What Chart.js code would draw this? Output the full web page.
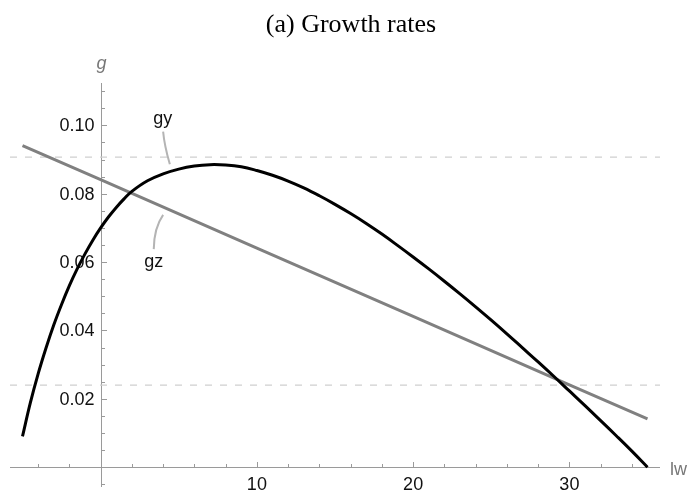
<!DOCTYPE html>
<html>
<head>
<meta charset="utf-8">
<script src="https://cdn.jsdelivr.net/npm/chart.js@4.4.1/dist/chart.umd.min.js"></script>
<style>
  body { margin: 0; background: #fff; }
  #wrap { width: 694px; height: 494px; }
</style>
</head>
<body>
<div id="wrap"><canvas id="myChart"></canvas></div>
<script>
// values
const lw = [-5, -4.5, -4, -3.5, -3, -2.5, -2, -1.5, -1, -0.5, 0, 0.5, 1, 1.5, 2,
  3, 4, 5, 6, 7, 8, 9, 10, 11, 12, 13, 14, 15, 16, 17, 18, 19, 20,
  21, 22, 23, 24, 25, 26, 27, 28, 29, 30, 31, 32, 33, 34, 35];
const gy = [0.0090, 0.0188, 0.0273, 0.0348, 0.0416, 0.0476, 0.0531, 0.0580, 0.0624, 0.0664, 0.0700, 0.0732, 0.0760, 0.0785, 0.0807,
  0.0838, 0.0858, 0.0872, 0.0881, 0.0885, 0.0884, 0.0879, 0.0868, 0.0854, 0.0837, 0.0817, 0.0794, 0.0769, 0.0742, 0.0713, 0.0682, 0.0649, 0.0615,
  0.0580, 0.0544, 0.0507, 0.0469, 0.0430, 0.0390, 0.0349, 0.0308, 0.0266, 0.0223, 0.0180, 0.0136, 0.0092, 0.0047, 0.0];
const gzLw = [-5, 0, 10, 20, 30, 35];
const gz = [0.0941, 0.0841, 0.0641, 0.0441, 0.0241, 0.0141];
const refLevels = [0.0907, 0.024];

const xMajorTicks = [10, 20, 30];
const xTickLabels = ['10', '20', '30'];
const xMinorTicks = [-4, -2, 2, 4, 6, 8, 12, 14, 16, 18, 22, 24, 26, 28, 32, 34];
const yMajorTicks = [0.02, 0.04, 0.06, 0.08, 0.10];
const yTickLabels = ['0.02', '0.04', '0.06', '0.08', '0.10'];
const yMinorTicks = [-0.005, 0.005, 0.01, 0.015, 0.025, 0.03, 0.035, 0.045, 0.05, 0.055,
  0.065, 0.07, 0.075, 0.085, 0.09, 0.095, 0.105, 0.11];

const X_MIN = -5.8, X_MAX = 35.8;
const Y_MIN = -0.0058, Y_MAX = 0.1124;
const TITLE = '(a) Growth rates';

// curve labels with their little leader lines (data coords)
const curveLabels = [
  { text: 'gy', at: [3.98, 0.1020], path: [[4.0, 0.0982], [4.08, 0.0942], [4.43, 0.0886]] },
  { text: 'gz', at: [3.40, 0.0600], path: [[4.0, 0.0738], [3.42, 0.0700], [3.40, 0.0638]] }
];

const toPts = (xs, ys) => xs.map((v, i) => ({ x: v, y: ys[i] }));

const mathAxes = {
  id: 'mathAxes',
  beforeDatasetsDraw(chart) {
    const { ctx, scales: { x, y } } = chart;
    const x0 = Math.round(x.getPixelForValue(0)) + 0.5;
    const y0 = Math.round(y.getPixelForValue(0)) + 0.5;
    ctx.save();

    // title, centred on the page rather than on the plot box
    ctx.fillStyle = '#000';
    ctx.font = '26px "Liberation Serif", "Times New Roman", serif';
    ctx.textAlign = 'center';
    ctx.textBaseline = 'middle';
    ctx.fillText(TITLE, chart.width / 2 + 4, 25);

    ctx.strokeStyle = '#9a9a9a';
    ctx.lineWidth = 1;
    ctx.beginPath();
    ctx.moveTo(x.left, y0); ctx.lineTo(x.right, y0);
    ctx.moveTo(x0, y.top); ctx.lineTo(x0, y.bottom);
    xMajorTicks.forEach(v => {
      const px = Math.round(x.getPixelForValue(v)) + 0.5;
      ctx.moveTo(px, y0); ctx.lineTo(px, y0 - 5.5);
    });
    xMinorTicks.forEach(v => {
      const px = Math.round(x.getPixelForValue(v)) + 0.5;
      ctx.moveTo(px, y0); ctx.lineTo(px, y0 - 3.5);
    });
    yMajorTicks.forEach(v => {
      const py = Math.round(y.getPixelForValue(v)) + 0.5;
      ctx.moveTo(x0, py); ctx.lineTo(x0 + 5.5, py);
    });
    yMinorTicks.forEach(v => {
      const py = Math.round(y.getPixelForValue(v)) + 0.5;
      ctx.moveTo(x0, py); ctx.lineTo(x0 + 3.5, py);
    });
    ctx.stroke();

    ctx.fillStyle = '#111';
    ctx.font = '18px "Liberation Sans", Arial, sans-serif';
    ctx.textAlign = 'center';
    xMajorTicks.forEach((v, i) => {
      ctx.fillText(xTickLabels[i], x.getPixelForValue(v), y0 + 18);
    });
    ctx.textAlign = 'right';
    yMajorTicks.forEach((v, i) => {
      ctx.fillText(yTickLabels[i], x0 - 7, y.getPixelForValue(v) + 1);
    });

    // axis names
    ctx.fillStyle = '#777';
    ctx.textAlign = 'left';
    ctx.fillText('lw', x.right + 10, y0 + 3);
    ctx.textAlign = 'center';
    ctx.font = 'italic 18px "Liberation Sans", Arial, sans-serif';
    ctx.fillText('g', x0, y.top - 19);
    ctx.restore();
  },
  afterDatasetsDraw(chart) {
    const { ctx, scales: { x, y } } = chart;
    ctx.save();
    ctx.strokeStyle = '#b4b4b4';
    ctx.lineWidth = 2;
    curveLabels.forEach(lab => {
      const p = lab.path.map(q => [x.getPixelForValue(q[0]), y.getPixelForValue(q[1])]);
      ctx.beginPath();
      ctx.moveTo(p[0][0], p[0][1]);
      ctx.quadraticCurveTo(p[1][0], p[1][1], p[2][0], p[2][1]);
      ctx.stroke();
      ctx.fillStyle = '#111';
      ctx.font = '18px "Liberation Sans", Arial, sans-serif';
      ctx.textAlign = 'center';
      ctx.textBaseline = 'middle';
      ctx.fillText(lab.text, x.getPixelForValue(lab.at[0]), y.getPixelForValue(lab.at[1]));
    });
    ctx.restore();
  }
};

const ctx = document.getElementById('myChart');

const myChart = new Chart(ctx, {
  type: 'scatter',
  data: {
    datasets: [
      {
        label: 'gy',
        data: toPts(lw, gy),
        showLine: true,
        borderColor: '#000',
        borderWidth: 3,
        pointRadius: 0,
        tension: 0.4,
        order: 0
      },
      {
        label: 'gz',
        data: toPts(gzLw, gz),
        showLine: true,
        borderColor: '#808080',
        borderWidth: 3,
        pointRadius: 0,
        order: 1
      },
      ...refLevels.map(v => ({
        label: 'ref',
        data: [{ x: X_MIN, y: v }, { x: X_MAX, y: v }],
        showLine: true,
        borderColor: '#cfcfcf',
        borderWidth: 1.3,
        borderDash: [7, 8],
        pointRadius: 0,
        order: 2
      }))
    ]
  },
  options: {
    responsive: true,
    maintainAspectRatio: false,
    animation: false,
    layout: { padding: { left: 10, right: 34, top: 83, bottom: 7 } },
    scales: {
      x: { type: 'linear', min: X_MIN, max: X_MAX, display: false },
      y: { type: 'linear', min: Y_MIN, max: Y_MAX, display: false }
    },
    plugins: {
      legend: { display: false },
      tooltip: { enabled: false },
      title: { display: false }
    }
  },
  plugins: [mathAxes]
});
</script>
</body>
</html>
